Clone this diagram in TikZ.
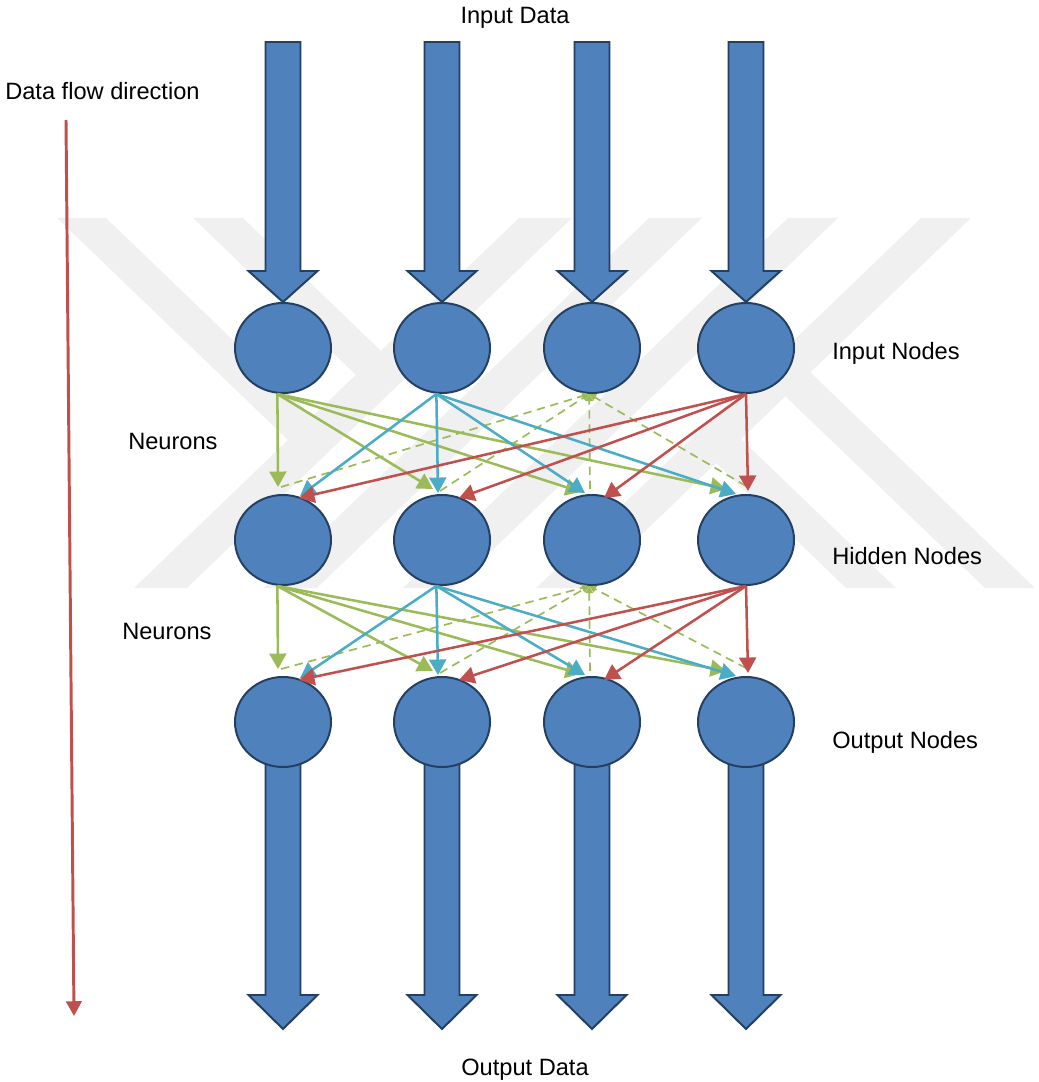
\documentclass[tikz,border=0pt]{standalone}
\usepackage{fontspec}
\setmainfont{Liberation Sans}
\usepackage{tikz}
\usetikzlibrary{shapes.geometric, arrows.meta}

\definecolor{nodeblue}{HTML}{4F81BD}
\definecolor{nodeedge}{HTML}{243F60}
\definecolor{lgreen}{HTML}{9BBB59}
\definecolor{lblue}{HTML}{4BACC6}
\definecolor{lred}{HTML}{C0504D}

\begin{document}
\begin{tikzpicture}[x=0.025cm, y=-0.025cm,
    neuron/.style={ellipse, draw=nodeedge, line width=1.4pt, fill=nodeblue,
                   minimum width=2.4cm, minimum height=2.25cm, inner sep=0pt},
    txt/.style={font=\fontsize{16.8}{20}\selectfont, inner sep=0pt},
    block/.style={draw=nodeedge, line width=1.4pt, fill=nodeblue, line join=miter},
    link/.style={line width=1.8pt, -{Triangle[length=11pt,width=12pt]}},
    dashlink/.style={lgreen, line width=1.2pt, dash pattern=on 6pt off 4pt,
                     -{Triangle[length=5pt,width=5pt]}},
    wm/.style={fill=black!6}]
      \useasboundingbox (0,0) rectangle (1038,1082);

      % watermark
      \fill[wm] (519,218) -- (572,218) -- (187,588) -- (134,588) -- cycle;
      \fill[wm] (649,218) -- (702,218) -- (317,588) -- (264,588) -- cycle;
      \fill[wm] (57,218) -- (106,218) -- (338,441) -- (289,441) -- cycle;
      \fill[wm] (193,218) -- (243,218) -- (406,375) -- (356,375) -- cycle;
      \fill[wm] (788,218) -- (838,218) -- (453,588) -- (403,588) -- cycle;
      \fill[wm] (921,218) -- (971,218) -- (586,588) -- (536,588) -- cycle;
      \fill[wm] (985,588) -- (1035,588) -- (810,372) -- (760,372) -- cycle;
      \fill[wm] (846,588) -- (896,588) -- (741,439) -- (691,439) -- cycle;

      % texts
      \node[txt, anchor=base]      (indata)  at (515,23.5)    {Input Data};
      \node[txt, anchor=base]      (outdata) at (525,1075.5)  {Output Data};
      \node[txt, anchor=base west] (flow)    at (5,99.5)      {Data flow direction};
      \node[txt, anchor=base west] (neur1)   at (128,449.5)   {Neurons};
      \node[txt, anchor=base west] (neur2)   at (122,639.5)   {Neurons};
      \node[txt, anchor=base west] (inlab)   at (832,359.5)   {Input Nodes};
      \node[txt, anchor=base west] (hdlab)   at (832,564.5)   {Hidden Nodes};
      \node[txt, anchor=base west] (outlab)  at (832,748.5)   {Output Nodes};

      % direction of data flow
      \coordinate (flowtop) at (66,120);
      \coordinate (flowend) at (74,1016);
      \draw[lred, line width=2.1pt, -{Triangle[length=10.5pt,width=11pt]}] (flowtop) -- (flowend);

      % block arrows and the three layers
      \foreach \x/\k in {283/1, 442/2, 592/3, 746/4} {
        \draw[block] (\x-17.5,42) -- (\x+17.5,42) -- (\x+17.5,271) -- (\x+34.5,271)
                     -- (\x,302) -- (\x-34.5,271) -- (\x-17.5,271) -- cycle;
        \draw[block] (\x-17.5,722) -- (\x+17.5,722) -- (\x+17.5,995) -- (\x+34.5,995)
                     -- (\x,1029) -- (\x-34.5,995) -- (\x-17.5,995) -- cycle;
        \node[neuron] (in\k)  at (\x,348) {};
        \node[neuron] (hd\k)  at (\x,540) {};
        \node[neuron] (out\k) at (\x,722) {};
      }

      % neurons between layers
      \foreach \up/\lo in {in/hd, hd/out} {
        \foreach \j/\dx/\dy in {1/-5/-7, 2/-9/-5, 3/-11/-2, 4/-20/-5}
          \draw[link, lgreen] ([xshift=-4]\up1.south) -- ([shift={(\dx,\dy)}]\lo\j.north);
        \foreach \j/\dx/\dy in {1/-2/-7, 2/-2/-3, 3/-2/-5, 4/0/-8}
          \draw[dashlink] ([shift={(\dx,\dy)}]\lo\j.north) -- ([xshift=-2]\up3.south);
        \foreach \j/\dx/\dy in {1/17/2, 2/-4/-1, 3/-7/-1, 4/-10/0}
          \draw[link, lblue] ([xshift=-4]\up2.south) -- ([shift={(\dx,\dy)}]\lo\j.north);
        \foreach \j/\dx/\dy in {1/16/4, 2/17/4, 3/12/4, 4/2/-3}
          \draw[link, lred] (\up4.south) -- ([shift={(\dx,\dy)}]\lo\j.north);
      }
    \end{tikzpicture}
\end{document}
